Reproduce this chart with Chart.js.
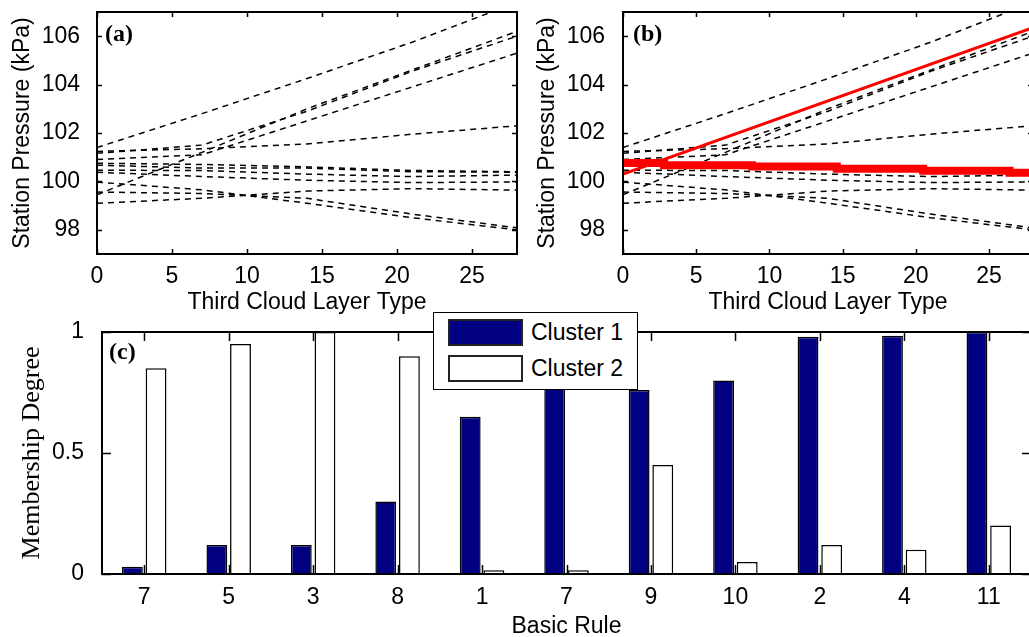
<!DOCTYPE html>
<html>
<head>
<meta charset="utf-8">
<title>Cloud layer rules</title>
<script src="https://cdn.jsdelivr.net/npm/chart.js@4.4.1/dist/chart.umd.min.js"></script>
<style>
  html, body { margin: 0; padding: 0; background: #fff; overflow: hidden; }
  #stage { position: relative; width: 1029px; height: 637px; overflow: hidden; }
  .panel { position: absolute; }
  #legend-c {
    position: absolute; left: 433px; top: 312px; width: 205px; height: 78px;
    box-sizing: border-box; border: 1px solid #000; background: #fff;
    font: 23px "Liberation Sans", Arial, sans-serif; color: #000;
  }
  #legend-c .item { position: absolute; left: 14px; height: 27px; display: flex; align-items: center; }
  #legend-c .swatch { width: 75px; height: 27px; box-sizing: border-box; border: 2px solid #222; margin-right: 8px; }
</style>
</head>
<body>
<div id="stage">
  <div class="panel" style="left:0;top:0"><canvas id="chart-a" width="520" height="320"></canvas></div>
  <div class="panel" style="left:520px;top:0"><canvas id="chart-b" width="520" height="320"></canvas></div>
  <div class="panel" style="left:0;top:300px"><canvas id="chart-c" width="1040" height="345"></canvas></div>
  <div id="legend-c"></div>
</div>
<script>
// x positions (Third Cloud Layer Type) where each rule curve was read
const cloudType = [0, 7, 14, 21, 28];

// station pressure (kPa) of each dashed rule curve
const rule01 = [101.4, 102.8, 104.25, 105.75, 107.4];
const rule02 = [101.24, 101.35, 101.55, 101.95, 102.3];
const rule03 = [101.16, 101.5, 102.9, 104.55, 106.0];
const rule04 = [100.9, 101.1, 102.5, 103.9, 105.3];
const rule05 = [100.75, 100.7, 100.6, 100.45, 100.4];
const rule06 = [100.67, 100.55, 100.55, 100.4, 100.38];
const rule07 = [100.46, 100.45, 100.3, 100.2, 100.26];
const rule08 = [100.38, 100.2, 100.05, 99.95, 99.98];
const rule09 = [99.97, 99.65, 99.1, 98.5, 98.0];
const rule10 = [99.56, 99.5, 99.3, 98.65, 98.08];
const rule11 = [99.45, 101.2, 103.0, 104.6, 106.2];
const rule12 = [99.1, 99.3, 99.6, 99.7, 99.64];
const ruleCurves = [rule01, rule02, rule03, rule04, rule05, rule06,
                    rule07, rule08, rule09, rule10, rule11, rule12];

// red curves of panel (b)
const fitX = [0, 28];
const fitY = [100.3, 106.35];
const stepX = [0, 2.8, 8.8, 14.6, 20.5, 26.4, 28];
const stepY = [100.76, 100.67, 100.62, 100.52, 100.44, 100.36, 100.36];

// tick labels
const cloudTicks = [0, 5, 10, 15, 20, 25];
const pressureTicks = [98, 100, 102, 104, 106];
const degreeTicks = [0, 0.5, 1];

// panel (c)
const basicRules = ["7", "5", "3", "8", "1", "7", "9", "10", "2", "4", "11"];
const cluster1 = [0.03, 0.12, 0.12, 0.30, 0.65, 0.77, 0.76, 0.80, 0.98, 0.985, 1.0];
const cluster2 = [0.85, 0.95, 1.0, 0.90, 0.015, 0.015, 0.45, 0.05, 0.12, 0.10, 0.20];

Chart.defaults.font.family = "'Liberation Sans', Arial, sans-serif";
Chart.defaults.color = "#000";

const tickFont = { size: 23 };
const serifTitle = { family: "'Liberation Serif', 'Times New Roman', serif", size: 26 };

// fixed axis box, no extra room for the end labels
function fixBox(size, isX) {
  return (s) => {
    if (isX) s.height = size;
    else s.width = size;
    s.paddingTop = 0;
    s.paddingBottom = 0;
    s.paddingLeft = 0;
    s.paddingRight = 0;
  };
}

// Box round the axes with MATLAB style ticks pointing inwards on all four sides
const frameTicks = {
  id: "frameTicks",
  afterDraw(chart, args, opts) {
    const { ctx, chartArea } = chart;
    const { left, right, top, bottom } = chartArea;
    const len = opts.length || 5;
    const x = chart.scales.x;
    const y = chart.scales.y;
    ctx.save();
    ctx.strokeStyle = "#000";
    ctx.lineWidth = 1.5;
    ctx.beginPath();
    x.ticks.forEach((t, i) => {
      const px = Math.round(x.getPixelForTick(i)) + 0.5;
      ctx.moveTo(px, bottom);
      ctx.lineTo(px, bottom - len);
      ctx.moveTo(px, top);
      ctx.lineTo(px, top + len);
    });
    y.ticks.forEach((t, i) => {
      const py = Math.round(y.getPixelForTick(i)) + 0.5;
      ctx.moveTo(left, py);
      ctx.lineTo(left + len, py);
      ctx.moveTo(right, py);
      ctx.lineTo(right - len, py);
    });
    ctx.stroke();
    ctx.lineWidth = 2;
    ctx.strokeRect(left, top, right - left, bottom - top);
    // panel letter
    ctx.font = "bold 24px 'Liberation Serif', 'Times New Roman', serif";
    ctx.fillStyle = "#000";
    ctx.textBaseline = "middle";
    ctx.fillText(opts.label, left + opts.labelDx, top + opts.labelDy);
    ctx.restore();
  },
};

function pressureScales(yWidth, yTitlePad, yTickPad) {
  return {
    x: {
      type: "linear",
      min: 0,
      max: 28,
      afterBuildTicks: (s) => { s.ticks = cloudTicks.map((v) => ({ value: v })); },
      ticks: { padding: 1, font: tickFont },
      grid: { display: false },
      border: { display: false },
      title: {
        display: true,
        text: "Third Cloud Layer Type",
        font: { size: 23 },
        padding: { top: 0, bottom: 4 },
      },
      afterFit: fixBox(66, true),
    },
    y: {
      min: 97,
      max: 107,
      afterBuildTicks: (s) => { s.ticks = pressureTicks.map((v) => ({ value: v })); },
      ticks: { padding: yTickPad, font: tickFont },
      grid: { display: false },
      border: { display: false },
      title: {
        display: true,
        text: "Station Pressure (kPa)",
        font: { size: 23 },
        padding: { top: yTitlePad, bottom: 0 },
      },
      afterFit: fixBox(yWidth, false),
    },
  };
}

function dashedDatasets() {
  return ruleCurves.map((curve, n) => ({
    label: `Rule ${n + 1}`,
    data: cloudType.map((x, i) => ({ x: x, y: curve[i] })),
    showLine: true,
    borderColor: "#000",
    borderWidth: 1.5,
    borderDash: [6, 5],
    pointRadius: 0,
    clip: 0,
    order: 1,
  }));
}

function pressureChart(id, datasets, scales, padding, plot) {
  return new Chart(document.getElementById(id), {
    type: "scatter",
    data: { datasets: datasets },
    options: {
      responsive: false,
      animation: false,
      layout: { padding: padding },
      scales: scales,
      plugins: {
        legend: { display: false },
        tooltip: { enabled: false },
        frameTicks: plot,
      },
    },
    plugins: [frameTicks],
  });
}

// Panel (a): the rule curves only
pressureChart(
  "chart-a",
  dashedDatasets(),
  pressureScales(97, 9, 9),
  { top: 12, right: 3, left: 0, bottom: 0 },
  { length: 5, label: "(a)", labelDx: 8, labelDy: 23 }
);

// Panel (b): same curves plus the two cluster curves in red
const redDatasets = [
  {
    label: "Fit",
    data: fitX.map((x, i) => ({ x: x, y: fitY[i] })),
    showLine: true,
    borderColor: "#ff0000",
    borderWidth: 3,
    pointRadius: 0,
    clip: 0,
    order: 0,
  },
  {
    label: "Step",
    data: stepX.map((x, i) => ({ x: x, y: stepY[i] })),
    showLine: true,
    stepped: true,
    borderColor: "#ff0000",
    borderWidth: 8,
    pointRadius: 0,
    clip: 0,
    order: 0,
  },
];
pressureChart(
  "chart-b",
  dashedDatasets().concat(redDatasets),
  pressureScales(103, 14, 10),
  { top: 12, right: 7, left: 0, bottom: 0 },
  { length: 5, label: "(b)", labelDx: 10, labelDy: 23 }
);

// Panel (c): membership degree bars
const chartC = new Chart(document.getElementById("chart-c"), {
  type: "bar",
  data: {
    labels: basicRules,
    datasets: [
      { label: "Cluster 1", data: cluster1, backgroundColor: "#000080" },
      { label: "Cluster 2", data: cluster2, backgroundColor: "#ffffff" },
    ],
  },
  options: {
    responsive: false,
    animation: false,
    layout: { padding: { top: 32, right: 9, left: 0, bottom: 0 } },
    datasets: {
      bar: {
        borderColor: "#000",
        borderWidth: 1.5,
        barPercentage: 0.88,
        categoryPercentage: 0.56,
      },
    },
    scales: {
      x: {
        ticks: { padding: 2, font: tickFont },
        grid: { display: false },
        border: { display: false },
        title: {
          display: true,
          text: "Basic Rule",
          font: { size: 23 },
          padding: { top: 0, bottom: 5 },
        },
        afterFit: fixBox(71, true),
      },
      y: {
        min: 0,
        max: 1,
        afterBuildTicks: (s) => { s.ticks = degreeTicks.map((v) => ({ value: v })); },
        ticks: { padding: 10, font: tickFont, callback: (v) => String(v) },
        grid: { display: false },
        border: { display: false },
        title: {
          display: true,
          text: "Membership Degree",
          font: serifTitle,
          padding: { top: 17, bottom: 0 },
        },
        afterFit: fixBox(102, false),
      },
    },
    plugins: {
      legend: { display: false },
      tooltip: { enabled: false },
      frameTicks: { length: 9, label: "(c)", labelDx: 7, labelDy: 21 },
    },
  },
  plugins: [frameTicks],
});

// Legend box laid over the top of panel (c)
const legendBox = document.getElementById("legend-c");
chartC.data.datasets.forEach((ds, i) => {
  legendBox.insertAdjacentHTML(
    "beforeend",
    `<div class="item" style="top:${i === 0 ? 6 : 42}px">
       <span class="swatch" style="background:${ds.backgroundColor}"></span>
       <span>${ds.label}</span>
     </div>`
  );
});
</script>
</body>
</html>
